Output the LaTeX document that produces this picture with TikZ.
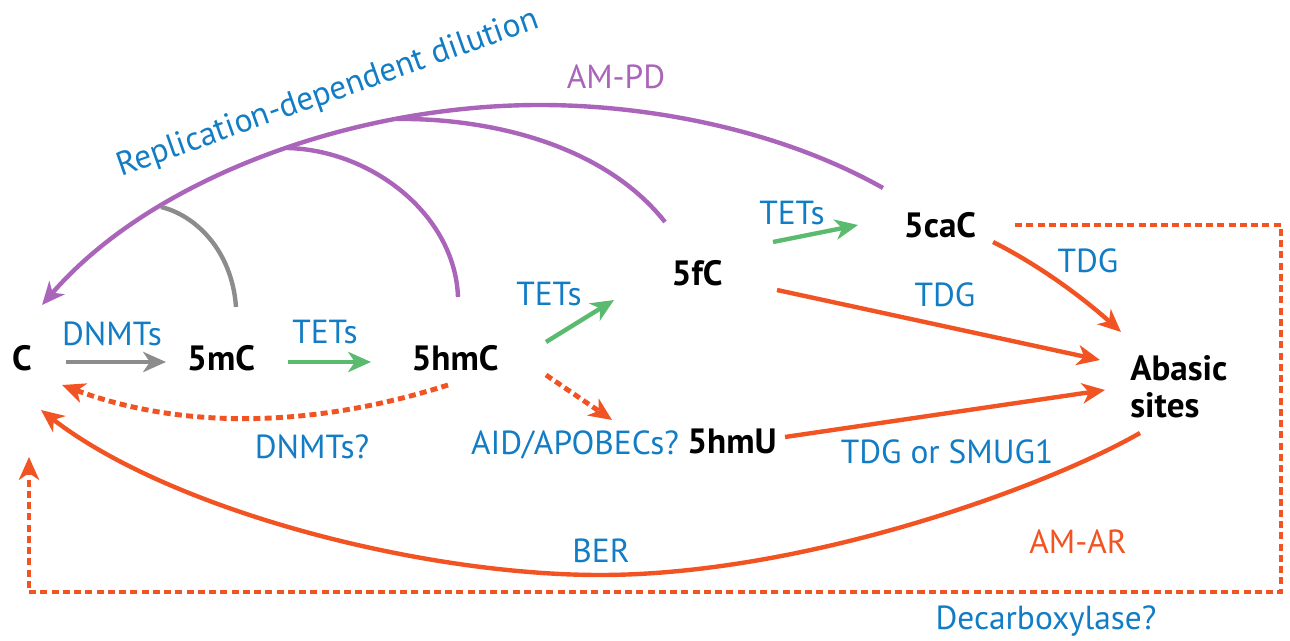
\documentclass[tikz,border=0pt]{standalone}
\usepackage{fontspec}
\setmainfont{PT Sans}
\usetikzlibrary{arrows.meta,calc}
\definecolor{pdpurple}{RGB}{170,100,185}
\definecolor{enzblue}{RGB}{18,124,196}
\definecolor{tetgreen}{RGB}{90,186,110}
\definecolor{berred}{RGB}{242,83,35}
\definecolor{dnmtgray}{RGB}{140,140,140}
\tikzset{
  base/.style={font=\bfseries\fontsize{20}{21}\selectfont, text=black, inner sep=0pt},
  lbl/.style={font=\fontsize{19}{21}\selectfont, text=enzblue, inner sep=0pt},
  tip/.style={-{Stealth[length=13pt,width=11.5pt,inset=3.8pt]}},
  conn/.style={line width=2.5pt, tip},
  dotline/.style={line width=2.8pt, dash pattern=on 4pt off 2.4pt},
  arc/.style={line width=2.5pt, pdpurple},
}
\begin{document}
\begin{tikzpicture}[x=0.02cm, y=-0.02cm]
\useasboundingbox (0,0) rectangle (1290,641);

% bases
\node[base] (C)    at (22,358)  {C};
\node[base] (m5C)  at (221,358) {5mC};
\node[base] (hm5C) at (455,358) {5hmC};
\node[base] (f5C)  at (697,273) {5fC};
\node[base] (ca5C) at (940,225) {5caC};
\node[base] (hmU)  at (732,441) {5hmU};
\node[base, align=left, anchor=west] (abasic) at (1130,387) {Abasic\\sites};

% enzyme and pathway labels
\node[lbl] (l-dnmt)  at (112,334) {DNMTs};
\node[lbl] (l-tet1)  at (325,332) {TETs};
\node[lbl] (l-tet2)  at (549,294) {TETs};
\node[lbl] (l-tet3)  at (792,213) {TETs};
\node[lbl] (l-tdg1)  at (1088,261) {TDG};
\node[lbl] (l-tdg2)  at (945,295) {TDG};
\node[lbl] (l-smug)  at (947,452) {TDG or SMUG1};
\node[lbl] (l-dnmtq) at (312,447) {DNMTs?};
\node[lbl] (l-aid)   at (575,445) {AID/APOBECs?};
\node[lbl] (l-ber)   at (601,551) {BER};
\node[lbl] (l-decarb) at (1046,621) {Decarboxylase?};
\node[lbl, text=berred] (l-amar) at (1078,542) {AM-AR};
\node[lbl, text=pdpurple] (l-ampd) at (616,77) {AM-PD};
\node[lbl, rotate=19.5] (l-repl) at (328,94) {Replication-dependent dilution};

% points where the branches meet the dilution arc
\coordinate (pdtop) at (540,105);
\coordinate (j2) at (397,119);
\coordinate (j3) at (287,148);
\coordinate (j4) at (161,207);

% oxidation / methylation steps
\draw[conn, dnmtgray] ($(C)+(44,4)$) -- ($(m5C)+(-55,4)$);
\draw[conn, tetgreen] ($(m5C)+(67,4)$) -- ($(hm5C)+(-84,4)$);
\draw[conn, tetgreen] ($(hm5C)+(91,-16)$) -- ($(f5C)+(-83,27)$);
\draw[conn, tetgreen] ($(f5C)+(76,-31)$) -- ($(ca5C)+(-82,0)$);

% glycosylase steps to abasic sites
\draw[conn, berred] ($(f5C)+(80,17)$) -- ($(abasic.west)+(-30,-27)$);
\draw[conn, berred] ($(ca5C)+(53,17)$) .. controls +(44,22) and +(-40,-36) .. ($(abasic.west)+(-9,-55)$);
\draw[conn, berred] ($(hmU)+(53,-4)$) -- ($(abasic.west)+(-25,3)$);

% base excision repair back to C
\coordinate (berlow) at (600,575);
\draw[conn, berred] ($(abasic.west)+(10,46)$) .. controls +(-100,57) and +(200,0) .. (berlow)
  .. controls +(-180,0) and +(129,100) .. ($(C)+(19,52)$);

% putative routes
\coordinate (aidtip) at ($(hm5C)+(157,62)$);
\draw[dotline, tip, berred] ($(hm5C)+(91,17)$) -- (aidtip);
\draw[dotline, tip, berred] ($(hm5C)+(-7,27)$) .. controls +(-138,44) and +(118,44) .. ($(C)+(40,27)$);
\coordinate (dc1) at (1281,225);
\coordinate (dc2) at (1281,592);
\coordinate (dc3) at (29,592);
\draw[dotline, tip, berred] ($(ca5C)+(75,0)$) -- (dc1) -- (dc2) -- (dc3) -- ($(C)+(7,99)$);

% passive dilution arcs
\draw[arc, tip] ($(ca5C)+(-57,-37)$) .. controls +(-103,-58) and +(110,0) .. (pdtop)
  .. controls +(-190,0) and +(108,-125) .. ($(C)+(20,-53)$);
\draw[arc] ($(f5C)+(-32,-51)$) .. controls +(-65,-82) and +(83,-1) .. (j2);
\draw[arc] ($(hm5C)+(3,-61)$) .. controls +(-3,-82) and +(85,2) .. (j3);
\draw[line width=2.5pt, dnmtgray] ($(m5C)+(15,-51)$) .. controls +(-4,-57) and +(34,8) .. (j4);
\end{tikzpicture}
\end{document}
